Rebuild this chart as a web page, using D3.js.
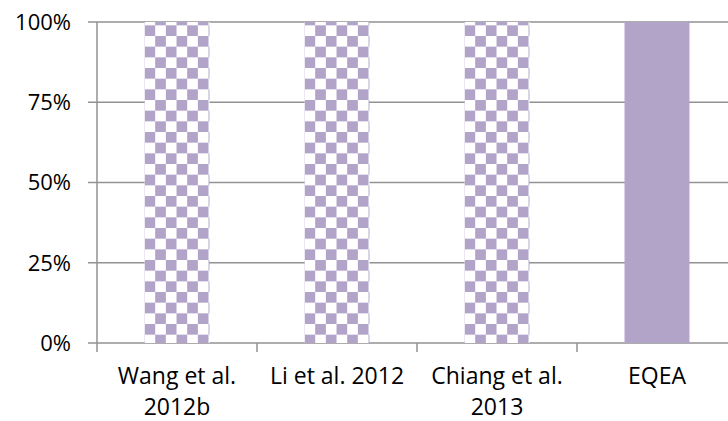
<!DOCTYPE html>
<html>
<head>
<meta charset="utf-8">
<script src="https://cdn.jsdelivr.net/npm/d3@7/dist/d3.min.js"></script>
<style>
  html, body { margin: 0; padding: 0; background: #fff; }
  svg { display: block; }
  text { font-family: "Open Sans", sans-serif; fill: #000; }
</style>
</head>
<body>
<svg id="chart" width="728" height="421"></svg>
<script>
// Share of each method (fraction of 1)
const categories = ["Wang et al.\n2012b", "Li et al. 2012", "Chiang et al.\n2013", "EQEA"];
const values = [1, 1, 1, 1];
const patterned = [true, true, true, false];
const yTicks = [0, 0.25, 0.5, 0.75, 1];
const yTickLabels = ["0%", "25%", "50%", "75%", "100%"];

const W = 728, H = 421;
const margin = { left: 97, right: -9, top: 22, bottom: 78 };
const barColor = "#b2a3c9";
const gridColor = "#929292";

const svg = d3.select("#chart");

const x = d3.scaleBand()
  .domain(categories)
  .range([margin.left, W - margin.right])
  .paddingInner(0.594)
  .paddingOuter(0.297);

const xCat = d3.scaleBand()
  .domain(categories)
  .range([margin.left, W - margin.right])
  .padding(0);

const y = d3.scaleLinear()
  .domain([0, 1])
  .range([H - margin.bottom, margin.top]);

// Checkerboard fill
const cell = 10.667;
const defs = svg.append("defs");
const pat = defs.append("pattern")
  .attr("id", "checker")
  .attr("patternUnits", "userSpaceOnUse")
  .attr("x", x(categories[0]))
  .attr("y", margin.top + 3.33)
  .attr("width", cell * 2)
  .attr("height", cell * 2);
pat.append("rect").attr("width", cell * 2).attr("height", cell * 2).attr("fill", "#fff");
pat.append("rect").attr("x", 0).attr("y", 0).attr("width", cell).attr("height", cell).attr("fill", barColor);
pat.append("rect").attr("x", cell).attr("y", cell).attr("width", cell).attr("height", cell).attr("fill", barColor);

// Horizontal gridlines with left tick stubs
svg.append("g")
  .selectAll("line")
  .data(yTicks)
  .join("line")
  .attr("x1", margin.left - 9)
  .attr("x2", W)
  .attr("y1", d => y(d))
  .attr("y2", d => y(d))
  .attr("stroke", gridColor)
  .attr("stroke-width", 1.5);

// Vertical axis line
svg.append("line")
  .attr("x1", margin.left).attr("x2", margin.left)
  .attr("y1", y(1)).attr("y2", y(0))
  .attr("stroke", gridColor).attr("stroke-width", 1.5);

// Category boundary ticks below the baseline
const boundaries = categories.map(c => xCat(c)).concat([xCat(categories[categories.length - 1]) + xCat.bandwidth()]);
svg.append("g")
  .selectAll("line")
  .data(boundaries)
  .join("line")
  .attr("x1", d => d).attr("x2", d => d)
  .attr("y1", y(0)).attr("y2", y(0) + 9)
  .attr("stroke", gridColor).attr("stroke-width", 1.5);

// Bars
svg.append("g")
  .selectAll("rect")
  .data(categories)
  .join("rect")
  .attr("x", d => x(d))
  .attr("width", x.bandwidth())
  .attr("y", (d, i) => y(values[i]))
  .attr("height", (d, i) => y(0) - y(values[i]))
  .attr("fill", (d, i) => patterned[i] ? "url(#checker)" : barColor);

// Y tick labels
svg.append("g")
  .selectAll("text")
  .data(yTicks)
  .join("text")
  .attr("x", 71)
  .attr("y", d => y(d))
  .attr("dy", "0.36em")
  .attr("text-anchor", "end")
  .attr("font-size", 22)
  .text((d, i) => yTickLabels[i]);

// X category labels
const xl = svg.append("g")
  .selectAll("text")
  .data(categories)
  .join("text")
  .attr("x", d => xCat(d) + xCat.bandwidth() / 2)
  .attr("y", 384)
  .attr("text-anchor", "middle")
  .attr("font-size", 23);
xl.each(function (d) {
  const t = d3.select(this);
  d.split("\n").forEach((line, i) => {
    t.append("tspan")
      .attr("x", xCat(d) + xCat.bandwidth() / 2)
      .attr("dy", i === 0 ? 0 : 31)
      .text(line);
  });
});
</script>
</body>
</html>
